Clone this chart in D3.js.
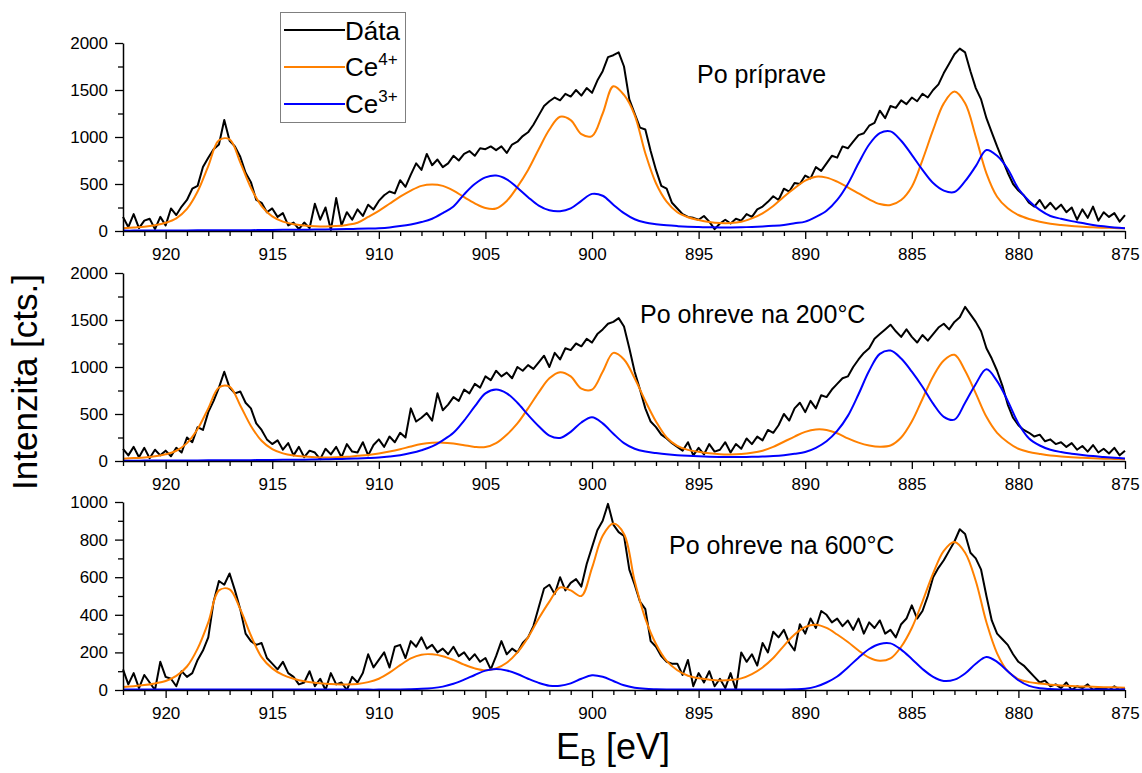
<!DOCTYPE html>
<html>
<head>
<meta charset="utf-8">
<script src="https://cdn.jsdelivr.net/npm/d3@7"></script>
<style>
body { margin: 0; background: #fff; }
text { font-family: Arial, "Liberation Sans", sans-serif; fill: #000; }
</style>
</head>
<body>
<svg id="chart" width="1142" height="773"></svg>
<script>
// binding energy grid: fits every 0.5 eV, measured data every 0.25 eV
var eStart = 922, eEnd = 875;
var fitStep = 0.5, dataStep = 0.25;

var xMajor = [920, 915, 910, 905, 900, 895, 890, 885, 880, 875];

var yMajor1 = [0, 500, 1000, 1500, 2000];
var yMajor3 = [0, 200, 400, 600, 800, 1000];

// ---- Po príprave ----
var data1 = [
  150, 40, 180, 30,   110, 130, 20, 150,   60, 240, 170, 260,   330, 450, 480, 680,
  780, 870, 920, 1180,   960, 900, 790, 620,   520, 330, 300, 200,   240, 150, 190, 60,
  90, 20, 90, 30,   290, 120, 250, 10,   350, 60, 200, 120,   230, 160, 280, 230,
  320, 380, 420, 400,   540, 470, 600, 720,   650, 820, 700, 760,   680, 720, 800, 750,
  820, 850, 800, 880,   870, 900, 860, 900,   830, 920, 950, 1010,   1050, 1130, 1230, 1330,
  1380, 1420, 1390, 1460,   1430, 1500, 1440, 1520,   1470, 1600, 1700, 1850,   1870, 1900, 1750, 1400,
  1250, 1100, 1080, 850,   650, 480, 450, 300,   240, 180, 150, 140,   120, 160, 100, 20,
  80, 120, 80, 130,   110, 180, 150, 230,   260, 310, 370, 330,   450, 420, 510, 500,
  590, 560, 680, 640,   720, 800, 780, 900,   880, 950, 1020, 1040,   1120, 1150, 1280, 1200,
  1330, 1310, 1390, 1350,   1420, 1380, 1460, 1420,   1500, 1560, 1680, 1780,   1880, 1940, 1900, 1700,
  1520, 1400, 1200, 1050,   900, 760, 620, 500,   430, 380, 300, 260,   330, 240, 300, 230,
  280, 200, 250, 120,   230, 140, 260, 110,   200, 150, 190, 100,   170
];
var ce4_1 = [
  30, 38,  46, 62,  88, 135,  235, 420,  690, 965,  975, 730,  460, 265,  155, 100,
  72, 58,  50, 47,  52, 65,  88, 150,  215, 290,  365, 430,  480, 495,  480, 430,
  360, 295,  245, 240,  320, 470,  650, 870,  1080, 1215,  1180, 1030,  1010, 1250,  1540, 1447,
  1234, 827,  508, 312,  199, 146,  117, 96,  85, 85,  99, 135,  188, 266,  365, 454,
  536, 578,  568, 525,  465, 401,  337, 287,  277, 330,  472, 755,  1075, 1358,  1483, 1358,
  1004, 614,  365, 241,  170, 128,  99, 78,  64, 53,  46, 39,  35, 32,  28
];
var ce3_1 = [
  4, 4,  5, 5,  5, 6,  6, 7,  7, 8,  8, 9,  9, 10,  11, 12,
  13, 14,  15, 17,  19, 21,  23, 26,  30, 38,  52, 70,  95, 130,  190, 260,
  390, 500,  570, 590,  550, 460,  360, 270,  220, 210,  240, 320,  395, 375,  280, 190,
  125, 90,  72, 60,  52, 46,  42, 40,  38, 38,  40, 43,  48, 55,  65, 82,
  100, 150,  215, 330,  500, 720,  920, 1040,  1060, 960,  810, 650,  510, 430,  415, 530,
  690, 862,  800, 660,  450, 320,  225, 160,  130, 105,  85, 65,  50, 38,  30
];

// ---- Po ohreve na 200°C ----
var data2 = [
  130, 60, 150, 40,   140, 30, 120, 60,   110, 50, 140, 90,   250, 200, 360, 330,
  520, 640, 780, 950,   780, 720, 740, 620,   560, 400, 330, 230,   180, 220, 120, 190,
  60, 150, 40, 110,   90, 20, 130, 70,   150, 40, 180, 100,   90, 200, 60, 170,
  230, 150, 260, 200,   300, 250, 560, 420,   460, 510, 430, 720,   540, 600, 680, 640,
  760, 720, 820, 780,   900, 860, 960, 900,   940, 880, 1000, 960,   1020, 980, 1050, 1120,
  1000, 1150, 1080, 1200,   1180, 1250, 1220, 1300,   1260, 1350, 1400, 1460,   1480, 1520, 1430, 1200,
  950, 760, 560, 420,   360, 280, 240, 190,   150, 110, 200, 60,   140, 70, 180, 100,
  120, 200, 90, 180,   130, 240, 180, 260,   220, 330, 300, 380,   500, 430, 560, 620,
  520, 640, 560, 700,   680, 760, 820, 880,   900, 1000, 1080, 1150,   1200, 1300, 1350, 1400,
  1450, 1380, 1320, 1400,   1320, 1260, 1340, 1280,   1350, 1420, 1460, 1400,   1480, 1530, 1640, 1560,
  1480, 1380, 1200, 1090,   960, 800, 600, 460,   380, 330, 300, 260,   280, 210, 230, 180,
  200, 150, 190, 120,   160, 100, 170, 90,   130, 80, 140, 60,   110
];
var ce4_2 = [
  24, 31,  37, 50,  71, 109,  190, 340,  560, 782,  790, 591,  373, 215,  126, 81,
  58, 47,  41, 38,  40, 45,  55, 65,  80, 100,  125, 155,  180, 193,  195, 185,
  168, 150,  148, 190,  280, 400,  560, 730,  880, 945,  900, 770,  760, 950,  1150, 1080,
  880, 640,  420, 250,  160, 118,  98, 82,  72, 70,  75, 88,  110, 150,  205, 260,
  310, 335,  330, 295,  240, 195,  165, 152,  165, 250,  420, 660,  900, 1070,  1130, 960,
  720, 470,  300, 200,  130, 95,  75, 58,  48, 40,  34, 29,  25, 22,  19
];
var ce3_2 = [
  3, 3,  4, 4,  5, 5,  6, 6,  7, 7,  8, 8,  9, 10,  11, 12,
  13, 14,  16, 18,  20, 23,  27, 32,  38, 48,  62, 85,  115, 155,  220, 300,
  430, 580,  720, 760,  720, 620,  490, 370,  270, 245,  310, 410,  465, 400,  290, 190,
  130, 100,  85, 72,  62, 55,  50, 46,  43, 42,  42, 44,  48, 53,  62, 76,
  95, 140,  210, 320,  480, 710,  960, 1140,  1175, 1090,  950, 790,  610, 470,  440, 620,
  820, 975,  850, 640,  400, 240,  165, 120,  95, 78,  64, 52,  43, 34,  26
];

// ---- Po ohreve na 600°C ----
var data3 = [
  110, 30, 90, 10,   80, 40, 0, 150,   70, 60, 20, 100,   70, 90, 160, 210,
  280, 470, 580, 560,   620, 530, 430, 300,   260, 240, 250, 170,   140, 110, 150, 90,
  70, 30, 40, 100,   20, 60, 0, 90,   30, 40, 0, 70,   40, 90, 190, 120,
  160, 200, 120, 230,   240, 170, 260, 230,   280, 220, 240, 200,   220, 190, 230, 180,
  200, 160, 190, 150,   170, 110, 180, 260,   190, 220, 200, 250,   280, 340, 440, 540,
  560, 510, 600, 530,   570, 590, 550, 670,   760, 850, 900, 990,   880, 840, 820, 640,
  560, 470, 430, 260,   230, 180, 150, 140,   140, 80, 160, 20,   90, 40, 100, 20,
  60, 10, 90, 0,   200, 150, 190, 130,   250, 200, 310, 280,   320, 250, 210, 350,
  300, 380, 330, 420,   400, 360, 380, 340,   370, 320, 380, 300,   360, 330, 370, 300,
  320, 280, 350, 380,   450, 380, 420, 500,   600, 650, 690, 740,   790, 855, 830, 730,
  700, 640, 500, 370,   300, 270, 240, 190,   150, 130, 100, 70,   40, 50, 20, 30,
  10, 40, 0, 20,   10, 30, 0, 10,   10, 0, 20, 0,   10
];
var ce4_3 = [
  16, 20,  26, 35,  48, 75,  125, 220,  360, 530,  535, 430,  290, 175,  115, 80,
  60, 46,  38, 33,  30, 29,  32, 42,  60, 92,  132, 168,  188, 190,  180, 160,
  135, 115,  105, 115,  145, 200,  280, 380,  470, 545,  530, 500,  650, 820,  885, 830,
  580, 380,  245, 155,  105, 76,  62, 55,  51, 53,  62, 85,  120, 170,  235, 295,
  335, 347,  330, 295,  255, 210,  172, 155,  168, 230,  330, 470,  620, 740,  787, 730,
  580, 360,  195, 100,  58, 42,  34, 28,  24, 21,  19, 17,  15, 14,  12
];
var ce3_3 = [
  2, 2,  2, 2,  2, 2,  2, 2,  2, 2,  2, 2,  2, 2,  2, 2,
  2, 2,  2, 2,  2, 2,  2, 2,  2, 3,  3, 4,  6, 10,  18, 33,
  55, 80,  103, 112,  104, 85,  60, 38,  23, 22,  35, 60,  78, 70,  48, 25,
  12, 6,  4, 3,  3, 3,  3, 3,  3, 3,  3, 3,  3, 3,  3, 4,
  7, 18,  40, 72,  120, 172,  218, 245,  248, 215,  165, 112,  70, 48,  55, 88,
  140, 176,  150, 100,  52, 22,  9, 5,  3, 2,  2, 2,  2, 2,  2
];

var panels = [
  { title: "Po príprave", top: 43, yMax: 2000, ticks: yMajor1, minorStep: 250,
    data: data1, ce4: ce4_1, ce3: ce3_1, tx: 697, ty: 83 },
  { title: "Po ohreve na 200\u00B0C", top: 273, yMax: 2000, ticks: yMajor1, minorStep: 250,
    data: data2, ce4: ce4_2, ce3: ce3_2, tx: 640, ty: 323 },
  { title: "Po ohreve na 600\u00B0C", top: 502, yMax: 1000, ticks: yMajor3, minorStep: 100,
    data: data3, ce4: ce4_3, ce3: ce3_3, tx: 669, ty: 554 }
];

var svg = d3.select("#chart");
var plotH = 188;
var orange = "#ff8000", blue = "#0000ff";

var x = d3.scaleLinear().domain([eStart, eEnd]).range([123, 1125]);

var xMinor = d3.range(eStart, eEnd - 0.01, -1).filter(function(d) { return xMajor.indexOf(d) < 0; });

function toPoints(values, step) {
  return values.map(function(v, i) { return [eStart - i * step, v]; });
}

panels.forEach(function(p) {
  var y = d3.scaleLinear().domain([0, p.yMax]).range([p.top + plotH, p.top]);
  var g = svg.append("g");

  var yMinor = d3.range(p.minorStep, p.yMax, p.minorStep * 2);

  // minor ticks first, then main axes on top
  g.append("g")
    .attr("transform", "translate(0," + (p.top + plotH) + ")")
    .call(d3.axisBottom(x).tickValues(xMinor).tickSize(5).tickSizeOuter(0).tickFormat(""))
    .call(function(a) { a.select(".domain").remove(); });
  g.append("g")
    .attr("transform", "translate(123,0)")
    .call(d3.axisLeft(y).tickValues(yMinor).tickSize(5).tickSizeOuter(0).tickFormat(""))
    .call(function(a) { a.select(".domain").remove(); });

  var line = d3.line()
    .x(function(d) { return x(d[0]); })
    .y(function(d) { return y(d[1]); });

  g.append("path")
    .datum(toPoints(p.data, dataStep))
    .attr("fill", "none")
    .attr("stroke", "#000")
    .attr("stroke-width", 2)
    .attr("stroke-linejoin", "round")
    .attr("d", line.curve(d3.curveLinear));

  var smooth = d3.line()
    .x(function(d) { return x(d[0]); })
    .y(function(d) { return y(d[1]); })
    .curve(d3.curveCatmullRom.alpha(0.5));

  g.append("path")
    .datum(toPoints(p.ce4, fitStep))
    .attr("fill", "none")
    .attr("stroke", orange)
    .attr("stroke-width", 2)
    .attr("d", smooth);

  g.append("path")
    .datum(toPoints(p.ce3, fitStep))
    .attr("fill", "none")
    .attr("stroke", blue)
    .attr("stroke-width", 2)
    .attr("d", smooth);

  var xa = g.append("g")
    .attr("transform", "translate(0," + (p.top + plotH) + ")")
    .call(d3.axisBottom(x).tickValues(xMajor).tickSize(8).tickSizeOuter(0).tickPadding(9).tickFormat(d3.format("d")));
  var ya = g.append("g")
    .attr("transform", "translate(123,0)")
    .call(d3.axisLeft(y).tickValues(p.ticks).tickSize(8).tickSizeOuter(0).tickPadding(7).tickFormat(d3.format("d")));

  [xa, ya].forEach(function(a) {
    a.selectAll("text").attr("font-size", 17).style("font-family", "Arial, 'Liberation Sans', sans-serif");
    a.select(".domain").attr("stroke-width", 1.5);
  });
  g.selectAll(".tick line").attr("stroke-width", 1.3);

  g.append("text")
    .attr("x", p.tx)
    .attr("y", p.ty)
    .attr("font-size", 25)
    .text(p.title);
});

// legend
var legend = svg.append("g");
legend.append("rect")
  .attr("x", 280.5).attr("y", 12.5)
  .attr("width", 125).attr("height", 110)
  .attr("fill", "#fff")
  .attr("stroke", "#7f7f7f")
  .attr("stroke-width", 1);

var legendItems = [
  { label: "D\u00E1ta", sup: "", color: "#000", ly: 30, ty: 40 },
  { label: "Ce", sup: "4+", color: orange, ly: 67, ty: 76 },
  { label: "Ce", sup: "3+", color: blue, ly: 104, ty: 113 }
];
legendItems.forEach(function(d) {
  legend.append("line")
    .attr("x1", 284).attr("x2", 345)
    .attr("y1", d.ly).attr("y2", d.ly)
    .attr("stroke", d.color)
    .attr("stroke-width", 2);
  var t = legend.append("text")
    .attr("x", 345).attr("y", d.ty)
    .attr("font-size", 26)
    .text(d.label);
  if (d.sup) {
    t.append("tspan")
      .attr("font-size", 17)
      .attr("dy", -11)
      .text(d.sup);
  }
});

// axis titles
svg.append("text")
  .attr("transform", "translate(37,382) rotate(-90)")
  .attr("text-anchor", "middle")
  .attr("font-size", 35)
  .text("Intenzita [cts.]");

var xt = svg.append("text")
  .attr("x", 556).attr("y", 759)
  .attr("font-size", 36)
  .text("E");
xt.append("tspan").attr("font-size", 24).attr("dy", 7).text("B");
xt.append("tspan").attr("dy", -7).text(" [eV]");
</script>
</body>
</html>
